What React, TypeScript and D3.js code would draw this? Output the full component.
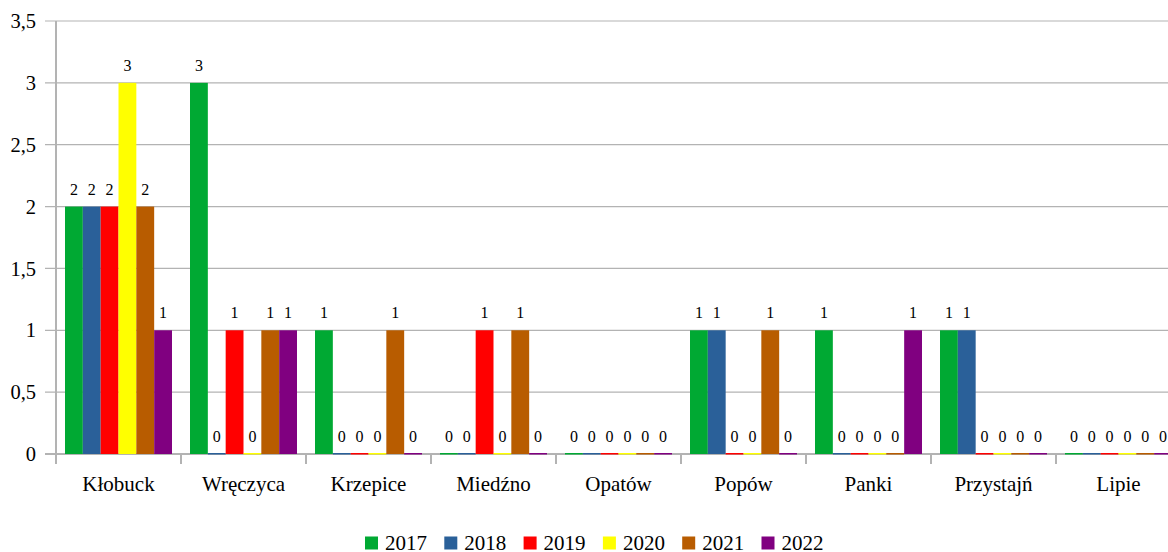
import * as d3 from "d3";
import React from "react";

const categories = ["Kłobuck", "Wręczyca", "Krzepice", "Miedźno", "Opatów", "Popów", "Panki", "Przystajń", "Lipie"];
const years = ["2017", "2018", "2019", "2020", "2021", "2022"];
const colors = ["#00a933", "#2a6099", "#ff0000", "#ffff00", "#b85c00", "#800080"];

const v2017 = [2, 3, 1, 0, 0, 1, 1, 1, 0];
const v2018 = [2, 0, 0, 0, 0, 1, 0, 1, 0];
const v2019 = [2, 1, 0, 1, 0, 0, 0, 0, 0];
const v2020 = [3, 0, 0, 0, 0, 0, 0, 0, 0];
const v2021 = [2, 1, 1, 1, 0, 1, 0, 0, 0];
const v2022 = [1, 1, 0, 0, 0, 0, 1, 0, 0];
const series = [v2017, v2018, v2019, v2020, v2021, v2022];

const yTicks = [0, 0.5, 1, 1.5, 2, 2.5, 3, 3.5];

const W = 1168;
const H = 552;
const TXT = { fontFamily: "'Liberation Serif'" };
const GRID = "#b3b3b3";

export default function App() {
  const left = 56;
  const bottom = 454;
  const top = 21;
  const step = 125;

  const x0 = d3
    .scaleBand<string>()
    .domain(categories)
    .range([left, left + step * categories.length])
    .paddingInner(0.144)
    .paddingOuter(0.072);
  const x1 = d3.scaleBand<string>().domain(years).range([0, x0.bandwidth()]);
  const y = d3.scaleLinear().domain([0, 3.5]).range([bottom, top]);
  const fmt = (v: number) => String(v).replace(".", ",");

  return (
    <svg width={W} height={H} style={{ position: "absolute", left: 0, top: 0, background: "#fff" }}>
      {/* gridlines + y labels */}
      {yTicks.map((t) => (
        <g key={t}>
          <line x1={45} x2={W} y1={y(t)} y2={y(t)} stroke={GRID} strokeWidth={t === 0 ? 2 : 1.2} />
          <text x={36} y={y(t)} dy="0.35em" textAnchor="end" fontSize={20.5} fill="#000" style={TXT}>
            {fmt(t)}
          </text>
        </g>
      ))}
      <line x1={left} x2={left} y1={top} y2={bottom + 10} stroke={GRID} strokeWidth={2} />
      {/* category ticks */}
      {categories.map((c, i) => (
        <line key={c} x1={left + step * (i + 1)} x2={left + step * (i + 1)} y1={bottom} y2={bottom + 10} stroke={GRID} strokeWidth={2} />
      ))}

      {/* bars */}
      {categories.map((c, ci) => (
        <g key={c} transform={`translate(${x0(c)},0)`}>
          {years.map((yr, si) => {
            const v = series[si][ci];
            const bx = x1(yr) ?? 0;
            const by = v === 0 ? bottom - 1 : y(v);
            const bh = v === 0 ? 1.5 : bottom - y(v);
            return (
              <g key={yr}>
                <rect x={bx} y={by} width={x1.bandwidth()} height={bh} fill={colors[si]} />
                <text x={bx + x1.bandwidth() / 2} y={y(v) - 12} textAnchor="middle" fontSize={16} fill="#000" style={TXT}>
                  {v}
                </text>
              </g>
            );
          })}
        </g>
      ))}

      {/* category labels */}
      {categories.map((c) => (
        <text key={c} x={(x0(c) ?? 0) + x0.bandwidth() / 2} y={484} dy="0.35em" textAnchor="middle" fontSize={21} fill="#000" style={TXT}>
          {c}
        </text>
      ))}

      {/* legend */}
      {years.map((yr, i) => (
        <g key={yr} transform={`translate(${365 + i * 79.3},543)`}>
          <rect x={0} y={-6.5} width={13} height={13} fill={colors[i]} />
          <text x={20} y={0} dy="0.33em" fontSize={21} fill="#000" style={TXT}>
            {yr}
          </text>
        </g>
      ))}
    </svg>
  );
}
